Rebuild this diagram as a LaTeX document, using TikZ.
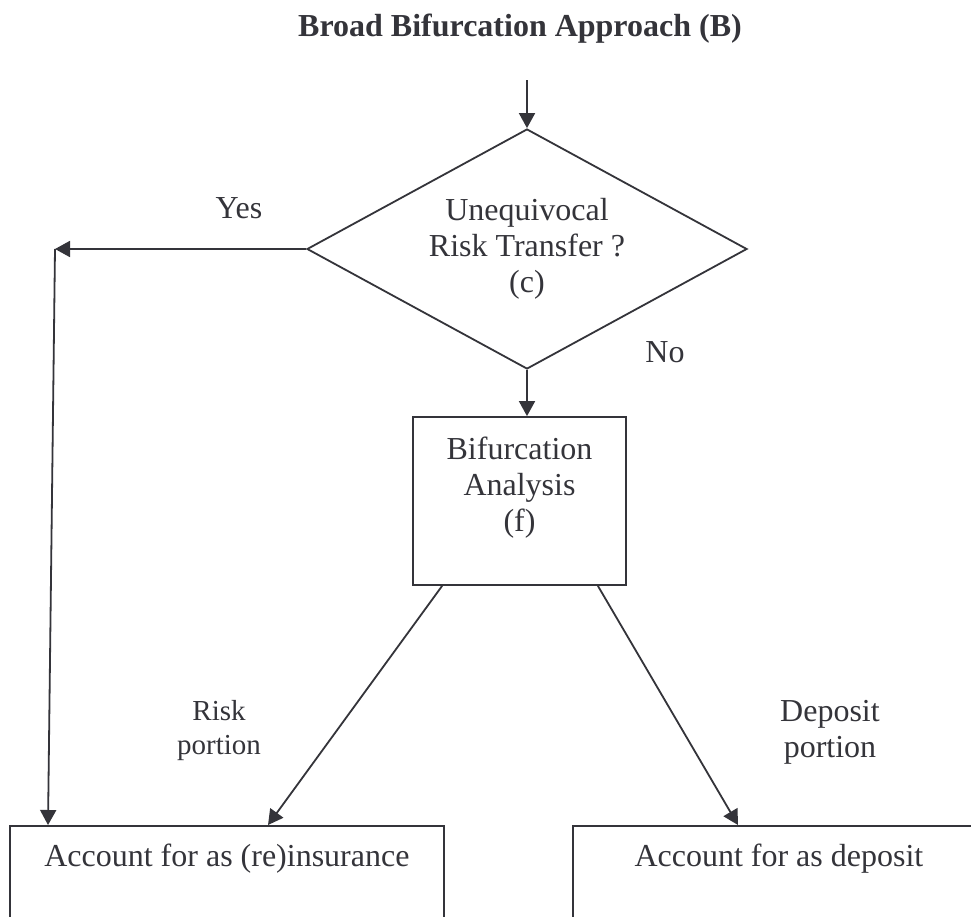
\documentclass[tikz,border=0pt]{standalone}
\usepackage{fontspec}
\setmainfont{Liberation Serif}
\usetikzlibrary{shapes.geometric,arrows.meta,calc}
\definecolor{ink}{RGB}{52,52,58}
\begin{document}
\begin{tikzpicture}[x=1pt,y=-1pt,
  every node/.style={font=\fontsize{32}{36}\selectfont, text=ink, inner sep=0pt},
  line/.style={draw=ink, line width=1.8pt},
  arr/.style={line, -{Triangle[length=15pt,width=16pt]}},
  boxnode/.style={draw=ink, line width=1.8pt, rectangle},
  decision/.style={draw=ink, line width=1.8pt, shape=diamond, aspect=1.83,
    minimum width=440pt, minimum height=240pt, align=center},
]
\useasboundingbox (0,0) rectangle (971,916);
\clip (0,0) rectangle (971,916);
\fill[white] (0,0) rectangle (971,916);

\node[anchor=base, font=\bfseries\fontsize{32}{36}\selectfont] (title) at (520,36) {Broad Bifurcation Approach (B)};

\coordinate (start) at (527,80);
\node[decision] (dia) at (527,249) {Unequivocal\\Risk Transfer ?\\(c)};
\coordinate (yc) at (55,249);

\node[boxnode, minimum width=213pt, minimum height=168pt] (bif) at (519.5,501) {};
\node[anchor=north, align=center] (biftext) at (519.5,437) {Bifurcation\\Analysis\\(f)};

\node[boxnode, anchor=north west, minimum width=434pt, text height=41pt, text depth=120pt] (acc1) at (9,825) {Account for as (re)insurance};
\node[boxnode, anchor=north west, minimum width=412pt, text height=41pt, text depth=120pt] (acc2) at (572,825) {Account for as deposit};

\draw[arr] (start) -- (dia.north);
\draw[arr] (dia.west) -- (yc);
\draw[arr] (yc) -- ([xshift=39pt]acc1.north west);
\draw[arr] (dia.south) -- (dia.south |- bif.north);
\draw[arr] ([xshift=30pt]bif.south west) -- ([xshift=259pt]acc1.north west);
\draw[arr] ([xshift=-29pt]bif.south east) -- ([xshift=166pt]acc2.north west);

\node[anchor=base] (yes) at (239,218) {Yes};
\node[anchor=base] (no) at (665,362) {No};
\node[anchor=north, align=center, font=\fontsize{29}{34}\selectfont] (risk) at (219,700) {Risk\\portion};
\node[anchor=north, align=center] (dep) at (830,700) {Deposit\\portion};
\end{tikzpicture}
\end{document}
